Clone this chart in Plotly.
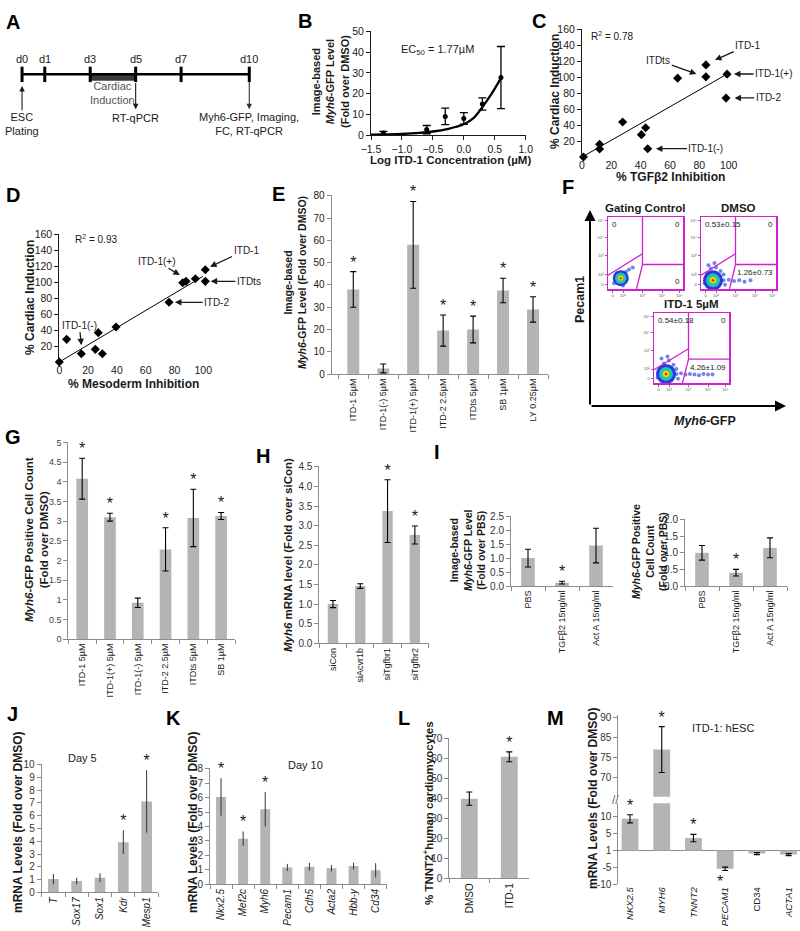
import plotly.graph_objects as go

W, H = 800, 931
FONT = "Liberation Sans, Arial, Helvetica, sans-serif"
INK = "#1a1a1a"
AXG = "#8c8c8c"
BAR = "#b4b4b4"
MAG = "#d21fd2"

# ======================= DATA =======================
# A: protocol timeline
a_days = [0, 1, 3, 5, 7, 10]
a_day_labels = ["d0", "d1", "d3", "d5", "d7", "d10"]
a_induction = [3, 5]

# B: dose response
b_logc = [-1.3, -0.6, -0.3, 0.0, 0.3, 0.6]
b_val = [1.0, 2.6, 9.0, 8.0, 15.0, 27.8]
b_err = [0.8, 2.0, 4.0, 2.8, 3.0, 15.0]
b_fit_x = [-1.5, -1.0, -0.5, -0.25, 0.0, 0.15, 0.3, 0.45, 0.6]
b_fit_y = [0.2, 0.5, 1.7, 3.0, 5.2, 8.0, 13.5, 20.0, 27.5]

# C: cardiac induction vs TGFb2 inhibition
c_tgf_inhib = [1, 12, 12, 27.7, 40.5, 43.4, 44.8, 65.2, 84.5, 84.5, 98.9, 98.2]
c_cardiac = [0, 16, 10, 43.8, 28, 36.7, 10.4, 98.8, 115.4, 100.4, 103.8, 73.8]
c_fit_x = [1, 99]
c_fit_y = [1, 104]
c_callouts = [("ITD-1", 90.7, 121.5, 113, 140), ("ITDts", 78, 104, 52, 121),
              ("ITD-1(+)", 103.6, 104, 131, 104), ("ITD-2", 104, 74, 127, 74),
              ("ITD-1(-)", 50.4, 10.4, 84.5, 10.4)]

# D: cardiac induction vs mesoderm inhibition
d_meso_inhib = [0, 5.1, 15.3, 25.0, 27.1, 29.9, 39.4, 76.2, 85.7, 88.0, 94.5, 101.4, 101.4]
d_cardiac = [0, 28.3, 10.4, 15.8, 36.7, 10.4, 43.8, 74.6, 99.0, 100.8, 104.0, 115.4, 100.8]
d_fit_x = [0, 99.7]
d_fit_y = [0, 107]
d_callouts = [("ITD-1", 104.7, 119, 129.7, 140), ("ITD-1(+)", 83.7, 108.7, 67.7, 126),
              ("ITDts", 105.1, 100.8, 131.7, 100.8), ("ITD-2", 80.3, 74.6, 109.3, 74.6),
              ("ITD-1(-)", 15.3, 21, 13.9, 46)]

# E
e_labels = ["ITD-1 5µM", "ITD-1(-) 5µM", "ITD-1(+) 5µM", "ITD-2 2.5µM", "ITDts 5µM", "SB 1µM", "LY 0.25µM"]
e_val = [38, 2.5, 58, 19.5, 20, 37.5, 29]
e_err = [8, 2, 19.5, 7, 6, 5.5, 5.7]
e_sig = [1, 0, 1, 1, 1, 1, 1]

# F: flow cytometry
fc_titles = ["Gating Control", "DMSO", "ITD-1 5µM"]
fc_ul = ["0", "0.53±0.15", "0.54±0.18"]
fc_ur = ["0", "0", "0"]
fc_lr = ["0", "1.26±0.73", "4.26±1.09"]
fc_gate_x = [0, 0.46, None, 0.46, 0.46, None, 0.46, 1.0, None, 0.38, 0.46]
fc_gate_y = [0.19, 0.49, None, 1.0, 0.34, None, 0.34, 0.34, None, 0.0, 0.34]
fc_center_x = [0.17, 0.16, 0.16]
fc_center_y = [0.15, 0.12, 0.13]
fc_spread_x = [[0.08, 0.12, 0.24, 0.28, 0.33, 0.2, 0.22, 0.1],
               [0.05, 0.09, 0.13, 0.2, 0.26, 0.3, 0.1, 0.18, 0.06, 0.24, 0.32, 0.14],
               [0.05, 0.09, 0.13, 0.2, 0.26, 0.3, 0.1, 0.18, 0.06, 0.24, 0.32, 0.14]]
fc_spread_y = [[0.08, 0.22, 0.24, 0.27, 0.3, 0.05, 0.18, 0.14],
               [0.08, 0.22, 0.28, 0.3, 0.25, 0.2, 0.33, 0.36, 0.15, 0.05, 0.06, 0.04],
               [0.08, 0.22, 0.28, 0.32, 0.26, 0.2, 0.35, 0.38, 0.15, 0.05, 0.06, 0.04]]
fc_tail_x = [[], [0.3, 0.37, 0.44, 0.51, 0.58, 0.66],
             [0.3, 0.36, 0.42, 0.48, 0.54, 0.6, 0.66, 0.72, 0.78]]
fc_tail_y = [[], [0.12, 0.13, 0.11, 0.12, 0.1, 0.12],
             [0.13, 0.14, 0.12, 0.13, 0.12, 0.11, 0.13, 0.12, 0.12]]
fc_tickvals = [0.06, 0.2, 0.46, 0.72, 0.95]
fc_ticktext = ["0", "10²", "10³", "10⁴", "10⁵"]

# G
g_labels = ["ITD-1 5µM", "ITD-1(+) 5µM", "ITD-1(-) 5µM", "ITD-2 2.5µM", "ITDts 5µM", "SB 1µM"]
g_val = [4.08, 3.1, 0.92, 2.28, 3.08, 3.13]
g_err = [0.52, 0.1, 0.12, 0.55, 0.73, 0.09]
g_sig = [1, 1, 0, 1, 1, 1]

# H
h_labels = ["siCon", "siAcvr1b", "siTgfbr1", "siTgfbr2"]
h_val = [1.0, 1.46, 3.37, 2.76]
h_err = [0.09, 0.06, 0.8, 0.23]
h_sig = [0, 0, 1, 1]

# I
i_labels = ["PBS", "TGFβ2 15ng/ml", "Act A 15ng/ml"]
i1_val = [1.0, 0.12, 1.45]
i1_err = [0.32, 0.05, 0.62]
i1_sig = [0, 1, 0]
i2_val = [1.0, 0.4, 1.15]
i2_err = [0.22, 0.1, 0.3]
i2_sig = [0, 1, 0]

# J
j_labels = ["T", "Sox17", "Sox1", "Kdr", "Mesp1"]
j_val = [1.04, 0.88, 1.14, 3.92, 7.12]
j_err = [0.4, 0.25, 0.35, 0.93, 2.45]
j_sig = [0, 0, 0, 1, 1]

# K
k_labels = ["Nkx2.5", "Mef2c", "Myh6", "Pecam1", "Cdh5", "Acta2", "Hbb-y", "Cd34"]
k_val = [6.05, 3.15, 5.2, 1.15, 1.2, 1.1, 1.25, 0.95]
k_err = [1.3, 0.5, 1.2, 0.25, 0.27, 0.22, 0.23, 0.5]
k_sig = [1, 1, 1, 0, 0, 0, 0, 0]

# L
l_labels = ["DMSO", "ITD-1"]
l_val = [40.0, 61.0]
l_err = [3.3, 2.5]
l_sig = [0, 1]

# M
m_labels = ["NKX2.5", "MYH6", "TNNT2", "PECAM1", "CD34", "ACTA1"]
m_italic = [1, 1, 1, 1, 0, 1]
m_val = [9.4, 76.9, 3.7, -5.4, -0.9, -1.2]
m_err = [1.2, 5.7, 1.1, 0.5, 0.3, 0.3]
m_sig = [1, 1, 1, 1, 0, 0]
m_low_ticks = [-10, -5, 0, 5, 10]
m_low_ticktext = ["-10", "-5", "1", "5", "10"]
m_up_ticks = [70, 75, 80, 85]
m_up_ticktext = ["70", "75", "85", "90"]

# ======================= HELPERS =======================
fig = go.Figure()
ann = []
lay = dict(width=W, height=H, autosize=False, margin=dict(l=0, r=0, t=0, b=0, pad=0),
           paper_bgcolor="white", plot_bgcolor="white", showlegend=False,
           font=dict(family=FONT, size=10, color=INK))


def xd(a, b):
    return [a / W, b / W]


def yd(top, bot):
    return [1 - bot / H, 1 - top / H]


def pair(n, xdom, ydom, xkw, ykw):
    s = "" if n == 1 else str(n)
    lay["xaxis" + s] = dict(domain=xdom, anchor="y" + s, automargin=False, **xkw)
    lay["yaxis" + s] = dict(domain=ydom, anchor="x" + s, automargin=False, **ykw)
    return "x" + s, "y" + s


def lin(rng, line=INK, size=10, color=INK, **kw):
    d = dict(range=rng, showgrid=False, zeroline=False, showline=True, linecolor=line, linewidth=1,
             ticks="outside", ticklen=4, tickwidth=1, tickcolor=line,
             tickfont=dict(size=size, color=color, family=FONT), fixedrange=True)
    d.update(kw)
    return d


def cat(labels, rng, size=9, **kw):
    d = dict(type="category", categoryorder="array", categoryarray=labels, range=rng,
             showgrid=False, zeroline=False, showline=True, linecolor=AXG, linewidth=1,
             ticks="outside", ticklen=4, tickwidth=1, tickcolor=AXG, tickson="boundaries",
             tickangle=-90, tickfont=dict(size=size, color=INK, family=FONT), fixedrange=True)
    d.update(kw)
    return d


def hidden(rng):
    return dict(range=rng, visible=False, fixedrange=True, showgrid=False, zeroline=False)


def label(px, py, t, size=10, bold=False, angle=0, color=INK, **kw):
    if bold:
        t = "<b>" + t + "</b>"
    a = dict(x=px / W, y=1 - py / H, xref="paper", yref="paper", text=t, showarrow=False,
             textangle=angle, font=dict(size=size, color=color, family=FONT),
             xanchor="center", yanchor="middle")
    a.update(kw)
    ann.append(a)


def dlabel(xa, ya, x, y, t, size=10, color=INK, **kw):
    a = dict(x=x, y=y, xref=xa, yref=ya, text=t, showarrow=False,
             font=dict(size=size, color=color, family=FONT))
    a.update(kw)
    ann.append(a)


def arrow(xa, ya, hx, hy, tx, ty, t="", size=10, width=1.3, color=INK):
    ann.append(dict(x=hx, y=hy, ax=tx, ay=ty, xref=xa, yref=ya, axref=xa, ayref=ya, text=t,
                    showarrow=True, arrowhead=2, arrowsize=1, arrowwidth=width, arrowcolor=color,
                    font=dict(size=size, color=INK, family=FONT)))


def bars(xa, ya, labels, vals, errs, width, ecolor="black", cap=3, thick=1.1):
    fig.add_trace(go.Bar(x=labels, y=vals, xaxis=xa, yaxis=ya, width=width,
                         marker=dict(color=BAR, line=dict(width=0)),
                         error_y=dict(type="data", array=errs, visible=True, color=ecolor,
                                      thickness=thick, width=cap),
                         hoverinfo="skip"))


def stars(xa, ya, labels, vals, errs, sig, size=16, keep=lambda end: True):
    # significance stars beyond the error-bar end: above positive bars, below negative bars
    xs, ys = [], []
    for idx, (l, v, e, s) in enumerate(zip(labels, vals, errs, sig)):
        if not s:
            continue
        if v > 0 and keep(v + e):
            xs.append(l)
            ys.append(v + e)
        elif v < 0 and keep(v - e):
            ann.append(dict(x=idx, y=v - e, xref=xa, yref=ya, text="*", showarrow=False,
                            yanchor="top", yshift=-1, xshift=-5,
                            font=dict(size=size, color=INK, family=FONT)))
    fig.add_trace(go.Scatter(x=xs, y=ys, xaxis=xa, yaxis=ya, mode="text", text=["*"] * len(xs),
                             textposition="top center", textfont=dict(size=size, color=INK, family=FONT),
                             cliponaxis=False, hoverinfo="skip"))


# ======================= A =======================
xa, ya = pair(1, xd(0, 272), yd(45, 140), hidden([-0.97, 11.0]), hidden([-3.8, 1.7]))
fig.add_trace(go.Scatter(x=a_induction, y=[-0.2, -0.2], xaxis=xa, yaxis=ya, mode="lines",
                         line=dict(color="#3a3a3a", width=6), hoverinfo="skip"))
fig.add_trace(go.Scatter(x=[a_days[0], a_days[-1]], y=[0, 0], xaxis=xa, yaxis=ya, mode="lines",
                         line=dict(color="black", width=2.5), hoverinfo="skip"))
fig.add_trace(go.Scatter(x=a_days, y=[0] * len(a_days), xaxis=xa, yaxis=ya, mode="markers",
                         marker=dict(symbol="line-ns", size=11, line=dict(width=3, color="black")),
                         hoverinfo="skip"))
for d, t in zip(a_days, a_day_labels):
    dlabel(xa, ya, d, 0, t, size=11, yshift=15)
arrow(xa, ya, a_days[0], -0.67, a_days[0], -2.16, width=1.1)
arrow(xa, ya, a_days[3], -2.02, a_days[3], -0.42, width=1.1)
arrow(xa, ya, a_days[-1], -2.02, a_days[-1], -0.33, width=1.1, color="#333333")
dlabel(xa, ya, a_days[0], -2.88, "ESC<br>Plating", size=11)
dlabel(xa, ya, (a_induction[0] + a_induction[1]) / 2, -1.07, "Cardiac<br>Induction", size=11, color="#555555")
dlabel(xa, ya, a_days[3], -2.5, "RT-qPCR", size=11)
dlabel(xa, ya, a_days[-1], -2.88, "Myh6-GFP, Imaging,<br>FC, RT-qPCR", size=11)

# ======================= B =======================
xa, ya = pair(2, xd(371, 526), yd(31, 135),
              lin([-1.5, 1.005], dtick=0.5, tick0=-1.5, tickformat=".1f", size=10.5),
              lin([0, 50.3], dtick=10, size=10.5))
fig.add_trace(go.Scatter(x=b_fit_x, y=b_fit_y, xaxis=xa, yaxis=ya, mode="lines",
                         line=dict(color="black", width=2.3, shape="spline"), hoverinfo="skip"))
fig.add_trace(go.Scatter(x=b_logc, y=b_val, xaxis=xa, yaxis=ya, mode="markers",
                         marker=dict(color="black", size=5),
                         error_y=dict(type="data", array=b_err, color="black", thickness=1.3, width=4),
                         cliponaxis=False, hoverinfo="skip"))
label(450, 160, "Log ITD-1 Concentration (µM)", size=11.5, bold=True)
label(331, 82, "Image-based<br><i>Myh6</i>-GFP Level<br>(Fold over DMSO)", size=11, bold=True, angle=-90)
label(437, 50, "EC<sub>50</sub> = 1.77µM", size=11)

# ======================= C =======================
xa, ya = pair(3, xd(582, 736), yd(29.3, 157),
              lin([0, 105], showline=False, ticks="", tickvals=[0, 20, 40, 60, 80, 100], size=10.5),
              lin([0, 160], tickvals=[20, 40, 60, 80, 100, 120, 140, 160], size=10.5))
fig.add_trace(go.Scatter(x=c_fit_x, y=c_fit_y, xaxis=xa, yaxis=ya, mode="lines",
                         line=dict(color="black", width=1), hoverinfo="skip"))
fig.add_trace(go.Scatter(x=c_tgf_inhib, y=c_cardiac, xaxis=xa, yaxis=ya, mode="markers",
                         marker=dict(symbol="diamond", size=7, color="black"), cliponaxis=False,
                         hoverinfo="skip"))
for t, hx, hy, tx, ty in c_callouts:
    arrow(xa, ya, hx, hy, tx, ty, t=t, size=10)
dlabel(xa, ya, 20.5, 151, "R<sup>2</sup> = 0.78", size=10)
label(670, 177, "% TGFβ2 Inhibition", size=12, bold=True)
label(555, 92, "% Cardiac Induction", size=12, bold=True, angle=-90)

# ======================= D =======================
xa, ya = pair(4, xd(59.3, 217.7), yd(234, 362),
              lin([0, 110], showline=False, ticks="", tickvals=[0, 20, 40, 60, 80, 100], size=10.5),
              lin([0, 160], tickvals=[20, 40, 60, 80, 100, 120, 140, 160], size=10.5))
fig.add_trace(go.Scatter(x=d_fit_x, y=d_fit_y, xaxis=xa, yaxis=ya, mode="lines",
                         line=dict(color="black", width=1), hoverinfo="skip"))
fig.add_trace(go.Scatter(x=d_meso_inhib, y=d_cardiac, xaxis=xa, yaxis=ya, mode="markers",
                         marker=dict(symbol="diamond", size=7, color="black"), cliponaxis=False,
                         hoverinfo="skip"))
for t, hx, hy, tx, ty in d_callouts:
    arrow(xa, ya, hx, hy, tx, ty, t=t, size=10)
dlabel(xa, ya, 25.2, 154, "R<sup>2</sup> = 0.93", size=10)
label(133, 384, "% Mesoderm Inhibition", size=12, bold=True)
label(30, 298, "% Cardiac Induction", size=12, bold=True, angle=-90)

# ======================= E =======================
xa, ya = pair(5, xd(331.7, 548), yd(195, 374),
              cat(e_labels, [-0.72, 6.5], size=9),
              lin([0, 80.4], dtick=10, line=AXG, size=10))
bars(xa, ya, e_labels, e_val, e_err, 0.4)
stars(xa, ya, e_labels, e_val, e_err, e_sig)
label(295, 283, "Image-based<br><i>Myh6</i>-GFP Level (Fold over DMSO)", size=10.5, bold=True, angle=-90)

# ======================= F =======================
fc_boxes = [(608, 683, 217, 289), (701, 776, 217, 289), (654, 729, 313, 383)]
fc_layers = [(20, "#2a3bd4"), (14, "#1fb5ef"), (10, "#3fd14a"), (6, "#f2e21c"), (3, "#ee2a1a")]
for i, (x0, x1, y0, y1) in enumerate(fc_boxes):
    fcax = dict(range=[0, 1], showgrid=False, zeroline=False, showline=True, mirror=True,
                linecolor=MAG, linewidth=1.5, ticks="outside", ticklen=2, tickwidth=0.8,
                tickcolor="#555", tickvals=fc_tickvals, ticktext=fc_ticktext,
                tickfont=dict(size=4, color="#555", family=FONT), fixedrange=True)
    xa, ya = pair(6 + i, xd(x0, x1), yd(y0, y1), dict(fcax), dict(fcax))
    fig.add_trace(go.Scatter(x=fc_spread_x[i] + fc_tail_x[i], y=fc_spread_y[i] + fc_tail_y[i],
                             xaxis=xa, yaxis=ya, mode="markers",
                             marker=dict(size=4, color="#3b4fe0", opacity=0.7, line=dict(width=0)),
                             hoverinfo="skip"))
    s = 0.8 if i == 0 else 1.0
    for size, colr in fc_layers:
        fig.add_trace(go.Scatter(x=[fc_center_x[i]], y=[fc_center_y[i]], xaxis=xa, yaxis=ya,
                                 mode="markers", marker=dict(size=size * s, color=colr, line=dict(width=0)),
                                 hoverinfo="skip"))
    fig.add_trace(go.Scatter(x=fc_gate_x, y=fc_gate_y, xaxis=xa, yaxis=ya, mode="lines",
                             line=dict(color=MAG, width=1.3), hoverinfo="skip"))
    dom = dict(xref=xa + " domain", yref=ya + " domain", showarrow=False,
               font=dict(size=8, color=INK, family=FONT))
    ann.append(dict(dom, x=0.02, y=0.99, text=fc_ul[i], xanchor="left", yanchor="top"))
    ann.append(dict(dom, x=0.98, y=0.99, text=fc_ur[i], xanchor="right", yanchor="top"))
    ann.append(dict(dom, x=0.98, y=(0.32 if i else 0.01), text=fc_lr[i], xanchor="right",
                    yanchor=("top" if i else "bottom")))
    label((x0 + x1) / 2, y0 - 9, fc_titles[i], size=11.5, bold=True)

ann.append(dict(x=590 / W, y=1 - 210 / H, xref="paper", yref="paper", ax=0, ay=196, text="",
                showarrow=True, arrowhead=2, arrowsize=1.1, arrowwidth=2, arrowcolor="black"))
ann.append(dict(x=786 / W, y=1 - 406 / H, xref="paper", yref="paper", ax=-196, ay=0, text="",
                showarrow=True, arrowhead=2, arrowsize=1.1, arrowwidth=2, arrowcolor="black"))
label(580, 300, "Pecam1", size=12.5, bold=True, angle=-90)
label(705, 421, "<i>Myh6</i>-GFP", size=12.5, bold=True)

# ======================= G =======================
xa, ya = pair(9, xd(68.3, 235), yd(441.7, 639),
              cat(g_labels, [-0.5, 5.5], size=9),
              lin([0, 5.02], dtick=0.5, line=AXG, size=9, color="#444"))
bars(xa, ya, g_labels, g_val, g_err, 0.42)
stars(xa, ya, g_labels, g_val, g_err, g_sig)
label(36, 540, "<i>Myh6</i>-GFP Positive Cell Count<br>(Fold over DMSO)", size=11.5, bold=True, angle=-90)

# ======================= H =======================
xa, ya = pair(10, xd(319.3, 428.5), yd(466, 643.3),
              cat(h_labels, [-0.5, 3.5], size=9),
              lin([0, 4.52], dtick=0.5, tickformat=".1f", line=AXG, size=10, color="#333"))
bars(xa, ya, h_labels, h_val, h_err, 0.38)
stars(xa, ya, h_labels, h_val, h_err, h_sig)
label(288, 555, "<i>Myh6</i> mRNA level (Fold over siCon)", size=11.5, bold=True, angle=-90)

# ======================= I =======================
xa, ya = pair(11, xd(511, 613), yd(515.7, 586),
              cat(i_labels, [-0.5, 2.5], size=9),
              lin([0, 2.52], dtick=0.5, tickformat=".1f", line=AXG, size=10, color="#333"))
bars(xa, ya, i_labels, i1_val, i1_err, 0.4)
stars(xa, ya, i_labels, i1_val, i1_err, i1_sig)
label(467, 550, "Image-based<br><i>Myh6</i>-GFP Level<br>(Fold over PBS)", size=10.5, bold=True, angle=-90)

xa, ya = pair(12, xd(685, 787), yd(519, 586),
              cat(i_labels, [-0.5, 2.5], size=9),
              lin([0, 2.02], dtick=0.5, tickformat=".1f", line=AXG, size=10, color="#333"))
bars(xa, ya, i_labels, i2_val, i2_err, 0.4)
stars(xa, ya, i_labels, i2_val, i2_err, i2_sig)
label(649, 552, "<i>Myh6</i>-GFP Positive<br>Cell Count<br>(Fold over PBS)", size=10.5, bold=True, angle=-90)

# ======================= J =======================
j_cats = ["<i>" + l + "</i>" for l in j_labels]
xa, ya = pair(13, xd(41.7, 158.3), yd(764, 892.3),
              cat(j_cats, [-0.5, 4.5], size=10),
              lin([0, 10.05], dtick=1, line=AXG, size=10, color="#333"))
bars(xa, ya, j_cats, j_val, j_err, 0.46, ecolor="#333333", cap=0, thick=1)
stars(xa, ya, j_cats, j_val, j_err, j_sig)
label(82, 758, "Day 5", size=11)
label(18, 822, "mRNA Levels (Fold over DMSO)", size=12, bold=True, angle=-90)

# ======================= K =======================
k_cats = ["<i>" + l + "</i>" for l in k_labels]
xa, ya = pair(14, xd(210, 386.7), yd(768.3, 884),
              cat(k_cats, [-0.5, 7.5], size=10),
              lin([0, 8.04], dtick=1, line=AXG, size=10, color="#333"))
bars(xa, ya, k_cats, k_val, k_err, 0.45, ecolor="#333333", cap=0, thick=1)
stars(xa, ya, k_cats, k_val, k_err, k_sig)
label(305, 765, "Day 10", size=11)
label(193, 822, "mRNA Levels (Fold over DMSO)", size=12, bold=True, angle=-90)

# ======================= L =======================
xa, ya = pair(15, xd(449.3, 529.3), yd(738.3, 878.3),
              cat(l_labels, [-0.5, 1.5], size=10),
              lin([0, 70.3], dtick=10, line=AXG, size=10, color="#333"))
bars(xa, ya, l_labels, l_val, l_err, 0.42)
stars(xa, ya, l_labels, l_val, l_err, l_sig)
label(428, 813, "% TNNT2<sup>+</sup>human cardiomyocytes", size=11.5, bold=True, angle=-90)

# ======================= M =======================
m_cats = ["<i>" + lab + "</i>" if it else lab for lab, it in zip(m_labels, m_italic)]
m_low_rng = [-10, 14]
m_up_rng = [65.2, 85.5]
xa, ya = pair(16, xd(618.3, 800), yd(803.3, 884.3),
              cat(m_cats, [-0.37, 5.36], size=9.5, showline=False, ticks=""),
              lin(m_low_rng, line=AXG, size=10, color="#333", tickvals=m_low_ticks,
                  ticktext=m_low_ticktext, zeroline=True, zerolinecolor=AXG, zerolinewidth=1))
bars(xa, ya, m_cats, m_val, m_err, 0.53)
stars(xa, ya, m_cats, m_val, m_err, m_sig, keep=lambda end: end < m_low_rng[1])
xa2, ya2 = pair(17, xd(618.3, 800), yd(715, 796.7),
                dict(hidden([-0.37, 5.36]), type="category", categoryorder="array", categoryarray=m_cats),
                lin(m_up_rng, line=AXG, size=10, color="#333", tickvals=m_up_ticks, ticktext=m_up_ticktext))
bars(xa2, ya2, m_cats, m_val, m_err, 0.53)
stars(xa2, ya2, m_cats, m_val, m_err, m_sig, keep=lambda end: end > m_up_rng[0])
label(615, 800, "//", size=12, color="#666666")
label(723, 728, "ITD-1: hESC", size=11)
label(593, 798, "mRNA Levels (Fold over DMSO)", size=12, bold=True, angle=-90)

# ======================= panel letters =======================
letters = [("A", 13, 22), ("B", 305, 21), ("C", 539, 21), ("D", 13, 195), ("E", 278, 194),
           ("F", 568, 187), ("G", 13, 437), ("H", 263, 456), ("I", 437, 452), ("J", 12, 714),
           ("K", 173, 718), ("L", 404, 718), ("M", 555, 718)]
for t, px, py in letters:
    label(px, py, t, size=20, bold=True, color="black")

lay["annotations"] = ann
fig.update_layout(**lay)
fig.write_html("out.html", config={"displayModeBar": False, "staticPlot": True},
               post_script="document.body.style.margin='0px';document.body.style.overflow='hidden';")
